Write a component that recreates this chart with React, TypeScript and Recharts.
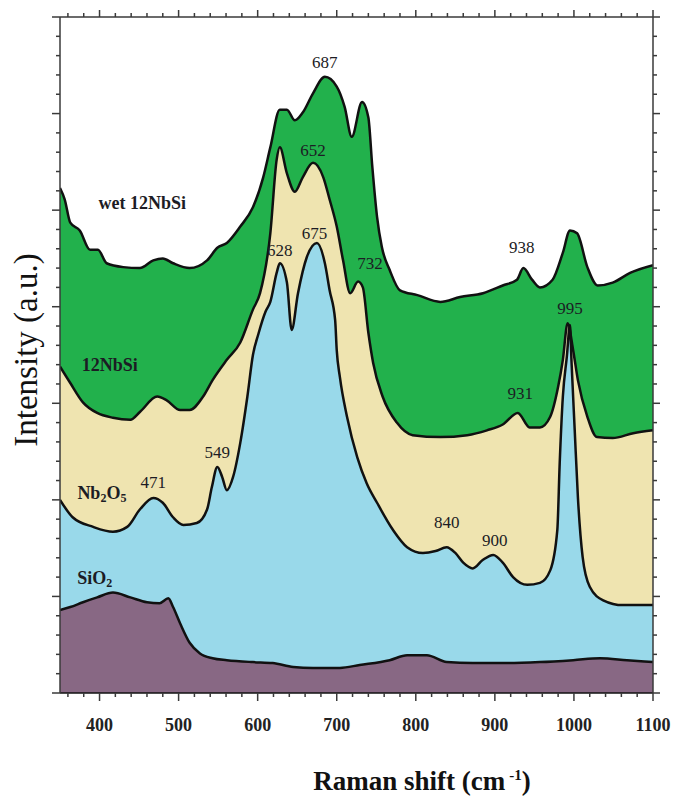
import { Area, ComposedChart, ReferenceDot, XAxis, YAxis } from "recharts";

// Raman spectra, [shift (cm-1), intensity (a.u.)]
const wetNbSi: [number, number][] = [
  [350, 5.23], [356, 5.11], [363, 4.87], [375, 4.79], [388, 4.59], [398, 4.59],
  [409, 4.45], [430, 4.41], [451, 4.4], [468, 4.48], [480, 4.5], [493, 4.45],
  [514, 4.4], [536, 4.48], [549, 4.61], [561, 4.66], [578, 4.83], [594, 5.03],
  [607, 5.34], [616, 5.65], [628, 6.04], [637, 6.04], [647, 5.93], [657, 6.01],
  [670, 6.21], [685, 6.38], [700, 6.28], [710, 6.07], [719, 5.76], [732, 6.12],
  [740, 5.96], [745, 5.45], [751, 4.93], [757, 4.62], [767, 4.38], [780, 4.17],
  [802, 4.12], [831, 4.05], [856, 4.1], [885, 4.14], [910, 4.22], [928, 4.28],
  [936, 4.4], [947, 4.28], [957, 4.2], [973, 4.28], [986, 4.56], [995, 4.79],
  [1004, 4.76], [1017, 4.41], [1030, 4.22], [1049, 4.25], [1071, 4.35], [1100, 4.43],
];

const nbSi: [number, number][] = [
  [350, 3.38], [363, 3.21], [379, 3.01], [397, 2.9], [417, 2.85], [439, 2.83],
  [451, 2.91], [473, 3.07], [485, 3.03], [502, 2.93], [514, 2.93], [531, 3.07],
  [543, 3.24], [561, 3.45], [578, 3.63], [594, 3.97], [603, 4.14], [616, 4.76],
  [624, 5.52], [628, 5.65], [637, 5.38], [647, 5.19], [657, 5.34], [670, 5.49],
  [683, 5.34], [691, 5.11], [700, 4.83], [708, 4.48], [717, 4.14], [727, 4.26],
  [733, 4.2], [740, 3.73], [746, 3.42], [758, 3.07], [776, 2.8], [796, 2.67],
  [831, 2.65], [865, 2.67], [890, 2.72], [910, 2.78], [929, 2.9], [944, 2.75],
  [957, 2.75], [970, 2.86], [980, 3.17], [986, 3.45], [992, 3.83], [999, 3.55],
  [1005, 3.24], [1017, 2.86], [1029, 2.65], [1049, 2.64], [1075, 2.69], [1100, 2.72],
];

const nb2o5: [number, number][] = [
  [350, 2.0], [366, 1.82], [392, 1.72], [417, 1.67], [435, 1.72], [451, 1.9],
  [468, 2.02], [480, 1.97], [493, 1.82], [506, 1.74], [523, 1.76], [536, 1.9],
  [542, 2.13], [549, 2.34], [555, 2.24], [561, 2.1], [569, 2.24], [578, 2.59],
  [587, 3.07], [594, 3.5], [601, 3.72], [610, 3.95], [616, 4.05], [624, 4.35],
  [628, 4.45], [637, 4.25], [643, 3.76], [651, 4.14], [662, 4.51], [675, 4.66],
  [685, 4.45], [691, 4.17], [698, 3.86], [700, 3.55], [704, 3.27], [713, 2.86],
  [726, 2.44], [738, 2.17], [751, 1.97], [771, 1.69], [789, 1.51], [809, 1.45],
  [825, 1.47], [839, 1.51], [850, 1.45], [860, 1.35], [872, 1.29], [885, 1.38],
  [898, 1.43], [910, 1.35], [923, 1.2], [941, 1.12], [957, 1.14], [970, 1.27],
  [979, 1.69], [982, 2.38], [986, 3.07], [991, 3.48], [995, 3.81], [997, 3.42],
  [1001, 2.72], [1005, 2.03], [1011, 1.41], [1020, 1.1], [1037, 0.96], [1062, 0.91],
  [1100, 0.91],
];

const sio2: [number, number][] = [
  [350, 0.86], [363, 0.89], [379, 0.94], [397, 0.99], [417, 1.04], [439, 0.99],
  [460, 0.94], [476, 0.93], [487, 0.98], [493, 0.89], [502, 0.72], [514, 0.52],
  [527, 0.41], [543, 0.36], [561, 0.34], [594, 0.32], [619, 0.31], [645, 0.27],
  [670, 0.26], [704, 0.26], [729, 0.29], [767, 0.34], [789, 0.39], [814, 0.39],
  [839, 0.32], [872, 0.31], [915, 0.31], [957, 0.32], [999, 0.34], [1033, 0.36],
  [1067, 0.34], [1100, 0.32],
];

// peak labels: text, shift, intensity
const peakLabels: { text: string; x: number; y: number }[] = [
  { text: "687", x: 685, y: 6.53 },
  { text: "652", x: 670, y: 5.62 },
  { text: "628", x: 628, y: 4.59 },
  { text: "675", x: 672, y: 4.76 },
  { text: "732", x: 742, y: 4.45 },
  { text: "938", x: 934, y: 4.62 },
  { text: "995", x: 995, y: 3.99 },
  { text: "931", x: 932, y: 3.11 },
  { text: "549", x: 549, y: 2.5 },
  { text: "471", x: 468, y: 2.18 },
  { text: "840", x: 839, y: 1.77 },
  { text: "900", x: 900, y: 1.58 },
];

// sample names as [text, subscript] parts
const sampleLabels: { parts: [string, string][]; x: number; y: number }[] = [
  { parts: [["wet 12NbSi", ""]], x: 454, y: 5.07 },
  { parts: [["12NbSi", ""]], x: 413, y: 3.4 },
  { parts: [["Nb", "2"], ["O", "5"]], x: 403, y: 2.07 },
  { parts: [["SiO", "2"]], x: 394, y: 1.19 },
];

const xMajor = [400, 500, 600, 700, 800, 900, 1000, 1100];
const xTicks: number[] = [];
for (let v = 360; v <= 1100; v += 20) xTicks.push(v);
const yTicks: number[] = [];
for (let i = 0; i <= 35; i++) yTicks.push(Math.round(i * 2) / 10);

const FONT = "'Liberation Serif', 'Times New Roman', serif";
const AXIS = "#3a3a3a";

const toPoints = (s: [number, number][]) => s.map(([x, y]) => ({ x, y }));

const isMajorY = (v: number) => Math.abs(v - Math.round(v)) < 1e-6;

const BottomTick = (props: any) => {
  const { x, y, payload } = props;
  const major = xMajor.includes(payload.value);
  return (
    <g>
      <line x1={x} x2={x} y1={y} y2={y + (major ? 8 : 4)} stroke={AXIS} strokeWidth={1.5} />
      {major && (
        <text
          x={x}
          y={y + 32}
          textAnchor="middle"
          dominantBaseline="central"
          style={{ fontFamily: FONT, fontWeight: "bold", fontSize: 18 }}
          fill="#222"
        >
          {payload.value}
        </text>
      )}
    </g>
  );
};

const TopTick = (props: any) => {
  const { x, y, payload } = props;
  const major = xMajor.includes(payload.value);
  return <line x1={x} x2={x} y1={y} y2={y - (major ? 7 : 4)} stroke={AXIS} strokeWidth={1.5} />;
};

const LeftTick = (props: any) => {
  const { x, y, payload } = props;
  return <line x1={x} x2={x - (isMajorY(payload.value) ? 8 : 4)} y1={y} y2={y} stroke={AXIS} strokeWidth={1.5} />;
};

const RightTick = (props: any) => {
  const { x, y, payload } = props;
  return <line x1={x} x2={x + (isMajorY(payload.value) ? 7 : 4)} y1={y} y2={y} stroke={AXIS} strokeWidth={1.5} />;
};

const AnnotText = (props: any) => {
  const vb = props.viewBox || {};
  const cx = (vb.x ?? 0) + (vb.width ?? 0) / 2;
  const cy = (vb.y ?? 0) + (vb.height ?? 0) / 2;
  const parts: [string, string][] = props.parts;
  return (
    <text
      x={cx}
      y={cy}
      textAnchor="middle"
      dominantBaseline="central"
      style={{
        fontFamily: FONT,
        fontSize: props.size || 17,
        fontWeight: props.bold ? "bold" : "normal",
      }}
      fill="#1c1c24"
    >
      {parts.map(([main, sub], i) => (
        <tspan key={i}>
          <tspan dy={i > 0 ? -5 : 0}>{main}</tspan>
          {sub && (
            <tspan dy={5} style={{ fontSize: 12 }}>
              {sub}
            </tspan>
          )}
        </tspan>
      ))}
    </text>
  );
};

const series = [
  { name: "wet 12NbSi", data: wetNbSi, fill: "#22b14c" },
  { name: "12NbSi", data: nbSi, fill: "#efe4b0" },
  { name: "Nb2O5", data: nb2o5, fill: "#99d9ea" },
  { name: "SiO2", data: sio2, fill: "#886884" },
];

export default function App() {
  return (
    <div style={{ position: "absolute", left: 0, top: 0, width: 673, height: 798 }}>
      <ComposedChart width={673} height={798} margin={{ top: 8, right: 0, left: 40, bottom: 65 }}>
        <XAxis
          xAxisId="b"
          dataKey="x"
          type="number"
          domain={[350, 1100]}
          ticks={xTicks}
          interval={0}
          tickSize={0}
          tickMargin={0}
          tickLine={false}
          tick={<BottomTick />}
          axisLine={{ stroke: "#111", strokeWidth: 1.5 }}
          height={40}
          allowDataOverflow
        />
        <XAxis
          xAxisId="t"
          orientation="top"
          dataKey="x"
          type="number"
          domain={[350, 1100]}
          ticks={xTicks}
          interval={0}
          tickSize={0}
          tickMargin={0}
          tickLine={false}
          tick={<TopTick />}
          axisLine={{ stroke: AXIS, strokeWidth: 1.5 }}
          height={9}
          allowDataOverflow
        />
        <YAxis
          yAxisId="l"
          type="number"
          domain={[0, 7]}
          ticks={yTicks}
          interval={0}
          tickSize={0}
          tickMargin={0}
          tickLine={false}
          tick={<LeftTick />}
          axisLine={{ stroke: AXIS, strokeWidth: 1.5 }}
          width={20}
          allowDataOverflow
        />
        <YAxis
          yAxisId="r"
          orientation="right"
          type="number"
          domain={[0, 7]}
          ticks={yTicks}
          interval={0}
          tickSize={0}
          tickMargin={0}
          tickLine={false}
          tick={<RightTick />}
          axisLine={{ stroke: AXIS, strokeWidth: 1.5 }}
          width={20}
          allowDataOverflow
        />
        {series.map((s) => (
          <Area
            key={s.name}
            name={s.name}
            xAxisId="b"
            yAxisId="l"
            data={toPoints(s.data)}
            dataKey="y"
            type="monotone"
            baseValue={0}
            fill={s.fill}
            fillOpacity={1}
            stroke="#111"
            strokeWidth={2.5}
            dot={false}
            activeDot={false}
            isAnimationActive={false}
          />
        ))}
        {peakLabels.map((p) => (
          <ReferenceDot
            key={p.text}
            xAxisId="b"
            yAxisId="l"
            x={p.x}
            y={p.y}
            r={0}
            fill="none"
            stroke="none"
            label={<AnnotText parts={[[p.text, ""]]} size={17} />}
          />
        ))}
        {sampleLabels.map((p, i) => (
          <ReferenceDot
            key={"s" + i}
            xAxisId="b"
            yAxisId="l"
            x={p.x}
            y={p.y}
            r={0}
            fill="none"
            stroke="none"
            label={<AnnotText parts={p.parts} size={18} bold />}
          />
        ))}
      </ComposedChart>
      <div
        style={{
          position: "absolute",
          left: 26,
          top: 350,
          transform: "translate(-50%, -50%) rotate(-90deg)",
          whiteSpace: "nowrap",
          fontFamily: FONT,
          fontSize: 33,
          lineHeight: 1,
          color: "#111",
        }}
      >
        Intensity (a.u.)
      </div>
      <div
        style={{
          position: "absolute",
          left: 422,
          top: 781,
          transform: "translate(-50%, -50%)",
          whiteSpace: "nowrap",
          fontFamily: FONT,
          fontSize: 27,
          lineHeight: 1,
          fontWeight: "bold",
          color: "#111",
        }}
      >
        Raman shift (cm<sup style={{ fontSize: 15, marginLeft: 4 }}>-1</sup>)
      </div>
    </div>
  );
}
